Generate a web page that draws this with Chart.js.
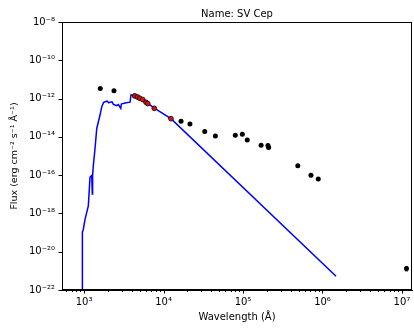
<!DOCTYPE html>
<html>
<head>
<meta charset="utf-8">
<script src="https://cdn.jsdelivr.net/npm/chart.js@4.4.1/dist/chart.umd.min.js"></script>
<style>
  html, body { margin: 0; padding: 0; background: #ffffff; }
  #wrap { width: 414px; height: 329px; }
</style>
</head>
<body>
<div id="wrap"><canvas id="sed"></canvas></div>
<script>
// model spectrum (blue line)
var modelWave = [953, 953, 980, 1030, 1132, 1189, 1250, 1270, 1282, 1309, 1374, 1445, 1589, 1671, 1760, 1837,
  1950, 2050, 2123, 2250, 2339, 2450, 2576, 2700, 2897, 2950, 3119, 3400, 3793, 3900, 4050, 4256, 4775,
  6150, 7740, 12400, 1.48e6];
var modelFlux = [1e-23, 1.05e-19, 1.5e-19, 5e-19, 2.5e-18, 7.8e-17, 9.5e-17, 1.05e-17, 1e-16, 3.2e-16, 2.4e-15,
  2.75e-14, 1.38e-13, 3.8e-13, 6.2e-13, 6.9e-13, 7.3e-13, 6.0e-13, 6.5e-13, 6.8e-13, 5e-13, 4.6e-13,
  4.3e-13, 4.9e-13, 3.1e-13, 5.2e-13, 5.6e-13, 6.0e-13, 6.5e-13, 1.55e-12, 1.45e-12, 1.7e-12, 1.17e-12,
  6.2e-13, 3.1e-13, 8.9e-14, 5.2e-22];

// photometry used in the fit (red)
var fitWave = [4345, 4680, 5020, 5475, 6025, 6325, 7650, 12400];
var fitFlux = [1.37e-12, 1.21e-12, 1.04e-12, 8.9e-13, 6.4e-13, 5.5e-13, 3.1e-13, 8.9e-14];

// other photometry (black)
var photWave = [1600, 2380, 16600, 21500, 33000, 44900, 80000, 98000, 113000, 169000, 206000, 210000,
  489000, 716000, 885000, 1.14e7];
var photFlux = [3.4e-12, 2.6e-12, 6.5e-14, 4.7e-14, 1.9e-14, 1.12e-14, 1.2e-14, 1.38e-14, 6.9e-15, 3.6e-15,
  3.5e-15, 2.75e-15, 3.1e-16, 1.0e-16, 6.2e-17, 1.32e-21];
var photErr = [0, 0, 0, 0, 0, 0, 0, 0, 0, 0, 0, 0, 0, 0, 0, 0.32e-21];

var xMajor = [1e3, 1e4, 1e5, 1e6, 1e7];
var yMajor = [1e-22, 1e-20, 1e-18, 1e-16, 1e-14, 1e-12, 1e-10, 1e-8];

var supMap = {'-': '\u207B', '0': '\u2070', '1': '\u00B9', '2': '\u00B2', '3': '\u00B3', '4': '\u2074',
  '5': '\u2075', '6': '\u2076', '7': '\u2077', '8': '\u2078', '9': '\u2079'};
function powLabel(v) {
  var e = String(Math.round(Math.log10(v)));
  return '10' + e.split('').map(function (c) { return supMap[c]; }).join('');
}

function pts(xs, ys) {
  return xs.map(function (x, i) { return {x: x, y: ys[i]}; });
}

// box, tick marks and error bars, like matplotlib
var axesDeco = {
  id: 'axesDeco',
  afterDatasetsDraw: function (chart) {
    var c = chart.ctx, a = chart.chartArea;
    var xs = chart.scales.x, ys = chart.scales.y;
    c.save();
    // error bars
    c.strokeStyle = '#000000';
    c.lineWidth = 1;
    photErr.forEach(function (e, i) {
      if (!e) return;
      var px = xs.getPixelForValue(photWave[i]);
      var top = ys.getPixelForValue(photFlux[i] + e);
      var bot = ys.getPixelForValue(photFlux[i] - e);
      c.beginPath();
      c.moveTo(px, top); c.lineTo(px, bot);
      c.moveTo(px - 1.5, top); c.lineTo(px + 1.5, top);
      c.moveTo(px - 1.5, bot); c.lineTo(px + 1.5, bot);
      c.stroke();
    });
    // frame
    c.lineWidth = 1;
    c.strokeStyle = '#000000';
    c.strokeRect(a.left + 0.5, a.top + 0.5, a.right - a.left - 1, a.bottom - a.top - 1);
    // x ticks
    c.beginPath();
    for (var n = 2; n <= 7; n++) {
      for (var k = 1; k <= 9; k++) {
        var v = k * Math.pow(10, n);
        if (v < xs.min || v > xs.max) continue;
        var px = Math.round(xs.getPixelForValue(v)) + 0.5;
        var len = k === 1 ? 3.5 : 2;
        c.moveTo(px, a.bottom); c.lineTo(px, a.bottom + len);
      }
    }
    // y ticks
    yMajor.forEach(function (v) {
      var py = Math.round(ys.getPixelForValue(v)) + 0.5;
      c.moveTo(a.left, py); c.lineTo(a.left - 3.5, py);
    });
    c.stroke();
    c.restore();
  }
};

var tickFont = {family: 'DejaVu Sans', size: 10};

new Chart(document.getElementById('sed'), {
  type: 'scatter',
  data: {
    datasets: [{
      label: 'phot',
      data: pts(photWave, photFlux),
      pointRadius: 2.5,
      pointBackgroundColor: '#000000',
      pointBorderColor: '#000000',
      pointBorderWidth: 0
    }, {
      label: 'fit',
      data: pts(fitWave, fitFlux),
      pointRadius: 2.4,
      pointBackgroundColor: '#e01010',
      pointBorderColor: '#000000',
      pointBorderWidth: 0.8
    }, {
      label: 'model',
      data: pts(modelWave, modelFlux),
      showLine: true,
      pointRadius: 0,
      borderColor: '#0000ff',
      borderWidth: 1.5,
      tension: 0
    }]
  },
  options: {
    responsive: true,
    maintainAspectRatio: false,
    animation: false,
    layout: {autoPadding: false, padding: {top: 0, right: 2, bottom: 0, left: 0}},
    plugins: {
      legend: {display: false},
      tooltip: {enabled: false},
      title: {
        display: true,
        text: 'Name: SV Cep',
        fullSize: false,
        color: '#000000',
        font: {family: 'DejaVu Sans', size: 10, weight: 'normal'},
        padding: {top: 8, bottom: 2}
      }
    },
    scales: {
      x: {
        type: 'logarithmic',
        min: 528,
        max: 1.337e7,
        afterBuildTicks: function (s) { s.ticks = xMajor.map(function (v) { return {value: v}; }); },
        afterFit: function (s) { s.height = 39; s.paddingLeft = 0; s.paddingRight = 0; },
        grid: {display: true, drawOnChartArea: false, drawTicks: false},
        border: {display: true, color: '#000000', width: 1},
        ticks: {
          callback: function (v) { return powLabel(v); },
          autoSkip: false, maxRotation: 0, padding: 6, color: '#000000', font: tickFont
        },
        title: {
          display: true, text: 'Wavelength (\u00C5)', color: '#000000',
          font: {family: 'DejaVu Sans', size: 10}, padding: {top: 0, bottom: 6}
        }
      },
      y: {
        type: 'logarithmic',
        min: 1e-22,
        max: 1e-8,
        afterBuildTicks: function (s) { s.ticks = yMajor.map(function (v) { return {value: v}; }); },
        afterFit: function (s) { s.width = 62; s.paddingTop = 0; s.paddingBottom = 0; },
        grid: {display: true, drawOnChartArea: false, drawTicks: false},
        border: {display: true, color: '#000000', width: 1},
        ticks: {
          callback: function (v) { return powLabel(v); },
          autoSkip: false, padding: 7, color: '#000000', font: tickFont
        },
        title: {
          display: true, text: 'Flux (erg cm\u207B\u00B2 s\u207B\u00B9 \u00C5\u207B\u00B9)', color: '#000000',
          font: {family: 'DejaVu Sans', size: 9.5}, padding: {top: 9, bottom: 0}
        }
      }
    }
  },
  plugins: [axesDeco]
});
</script>
</body>
</html>
